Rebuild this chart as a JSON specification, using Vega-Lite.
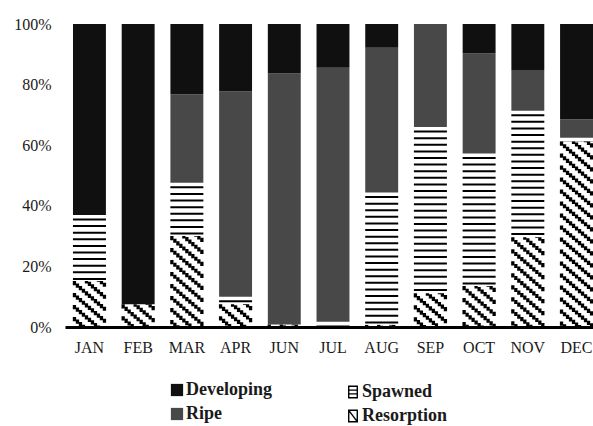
{
  "$schema": "https://vega.github.io/schema/vega-lite/v6.json",
  "autosize": {"type": "none"},
  "padding": {"left": 65, "top": 24, "right": 0, "bottom": 99},
  "width": 528,
  "height": 303,
  "config": {
    "view": {"stroke": null},
    "font": "Liberation Serif",
    "axis": {"grid": false, "ticks": false, "labelFont": "Liberation Serif", "labelFontSize": 16, "labelColor": "#1a1a1a", "title": null},
    "legend": {"labelFont": "Liberation Serif", "labelFontSize": 18, "labelFontWeight": "bold", "labelColor": "#1a1a1a"}
  },
  "data": {
    "values": [
      {"month": "JAN", "cat": "Resorption", "pct": 15.2},
      {"month": "JAN", "cat": "Spawned", "pct": 21.8},
      {"month": "JAN", "cat": "Developing", "pct": 63.0},
      {"month": "FEB", "cat": "Resorption", "pct": 7.5},
      {"month": "FEB", "cat": "Developing", "pct": 92.5},
      {"month": "MAR", "cat": "Resorption", "pct": 30.0},
      {"month": "MAR", "cat": "Spawned", "pct": 17.6},
      {"month": "MAR", "cat": "Ripe", "pct": 29.2},
      {"month": "MAR", "cat": "Developing", "pct": 23.2},
      {"month": "APR", "cat": "Resorption", "pct": 7.5},
      {"month": "APR", "cat": "Spawned", "pct": 2.5},
      {"month": "APR", "cat": "Ripe", "pct": 67.7},
      {"month": "APR", "cat": "Developing", "pct": 22.3},
      {"month": "JUN", "cat": "Resorption", "pct": 0.8},
      {"month": "JUN", "cat": "Ripe", "pct": 82.9},
      {"month": "JUN", "cat": "Developing", "pct": 16.3},
      {"month": "JUL", "cat": "Spawned", "pct": 1.7},
      {"month": "JUL", "cat": "Ripe", "pct": 83.9},
      {"month": "JUL", "cat": "Developing", "pct": 14.4},
      {"month": "AUG", "cat": "Resorption", "pct": 0.7},
      {"month": "AUG", "cat": "Spawned", "pct": 43.7},
      {"month": "AUG", "cat": "Ripe", "pct": 47.8},
      {"month": "AUG", "cat": "Developing", "pct": 7.8},
      {"month": "SEP", "cat": "Resorption", "pct": 11.1},
      {"month": "SEP", "cat": "Spawned", "pct": 54.9},
      {"month": "SEP", "cat": "Ripe", "pct": 34.0},
      {"month": "OCT", "cat": "Resorption", "pct": 13.5},
      {"month": "OCT", "cat": "Spawned", "pct": 43.8},
      {"month": "OCT", "cat": "Ripe", "pct": 33.0},
      {"month": "OCT", "cat": "Developing", "pct": 9.7},
      {"month": "NOV", "cat": "Resorption", "pct": 29.6},
      {"month": "NOV", "cat": "Spawned", "pct": 41.8},
      {"month": "NOV", "cat": "Ripe", "pct": 13.4},
      {"month": "NOV", "cat": "Developing", "pct": 15.2},
      {"month": "DEC", "cat": "Resorption", "pct": 61.2},
      {"month": "DEC", "cat": "Spawned", "pct": 1.3},
      {"month": "DEC", "cat": "Ripe", "pct": 6.1},
      {"month": "DEC", "cat": "Developing", "pct": 31.4}
    ]
  },
  "transform": [
    {"calculate": "indexof(['Resorption','Spawned','Ripe','Developing'], datum.cat)", "as": "k"},
    {"stack": "pct", "groupby": ["month"], "sort": [{"field": "k", "order": "ascending"}], "as": ["y0", "y1"]}
  ],
  "encoding": {
    "x": {
      "field": "month",
      "type": "nominal",
      "scale": {"domain": ["JAN", "FEB", "MAR", "APR", "JUN", "JUL", "AUG", "SEP", "OCT", "NOV", "DEC"], "paddingInner": 0.324, "paddingOuter": 0.082, "align": 1},
      "axis": {"labelAngle": 0, "domainWidth": 3, "domainColor": "#000", "labelPadding": 12}
    },
    "y": {
      "field": "y1",
      "type": "quantitative",
      "scale": {"domain": [0, 100]},
      "axis": {"domain": false, "values": [0, 20, 40, 60, 80, 100], "labelExpr": "datum.value + '%'", "labelPadding": 14}
    },
    "y2": {"field": "y0"}
  },
  "layer": [
    {
      "transform": [{"filter": "datum.cat === 'Developing' || datum.cat === 'Ripe'"}],
      "mark": {"type": "bar"},
      "encoding": {
        "color": {
          "field": "cat",
          "type": "nominal",
          "scale": {"domain": ["Developing", "Ripe"], "range": ["#101010", "#484848"]},
          "legend": {"title": null, "orient": "none", "legendX": 103, "legendY": 357, "symbolType": "square", "symbolSize": 150, "symbolStrokeWidth": 0, "labelOffset": 0, "rowPadding": 6}
        }
      }
    },
    {
      "transform": [{"filter": "datum.cat === 'Spawned'"}],
      "mark": {"type": "rule", "color": "#000", "strokeWidth": 33, "strokeCap": "butt", "strokeDash": [2, 4.6], "strokeDashOffset": 3}
    },
    {"transform": [{"filter": "datum.cat === 'Resorption'"}], "mark": {"type": "rule", "color": "#000", "strokeCap": "butt", "strokeWidth": 3.3, "xOffset": -15, "strokeDash": [4.2, 7.8], "strokeDashOffset": 0}},
    {"transform": [{"filter": "datum.cat === 'Resorption'"}], "mark": {"type": "rule", "color": "#000", "strokeCap": "butt", "strokeWidth": 3.3, "xOffset": -12, "strokeDash": [4.2, 7.8], "strokeDashOffset": 9.43}},
    {"transform": [{"filter": "datum.cat === 'Resorption'"}], "mark": {"type": "rule", "color": "#000", "strokeCap": "butt", "strokeWidth": 3.3, "xOffset": -9, "strokeDash": [4.2, 7.8], "strokeDashOffset": 6.86}},
    {"transform": [{"filter": "datum.cat === 'Resorption'"}], "mark": {"type": "rule", "color": "#000", "strokeCap": "butt", "strokeWidth": 3.3, "xOffset": -6, "strokeDash": [4.2, 7.8], "strokeDashOffset": 4.29}},
    {"transform": [{"filter": "datum.cat === 'Resorption'"}], "mark": {"type": "rule", "color": "#000", "strokeCap": "butt", "strokeWidth": 3.3, "xOffset": -3, "strokeDash": [4.2, 7.8], "strokeDashOffset": 1.71}},
    {"transform": [{"filter": "datum.cat === 'Resorption'"}], "mark": {"type": "rule", "color": "#000", "strokeCap": "butt", "strokeWidth": 3.3, "xOffset": 0, "strokeDash": [4.2, 7.8], "strokeDashOffset": 11.14}},
    {"transform": [{"filter": "datum.cat === 'Resorption'"}], "mark": {"type": "rule", "color": "#000", "strokeCap": "butt", "strokeWidth": 3.3, "xOffset": 3, "strokeDash": [4.2, 7.8], "strokeDashOffset": 8.57}},
    {"transform": [{"filter": "datum.cat === 'Resorption'"}], "mark": {"type": "rule", "color": "#000", "strokeCap": "butt", "strokeWidth": 3.3, "xOffset": 6, "strokeDash": [4.2, 7.8], "strokeDashOffset": 6}},
    {"transform": [{"filter": "datum.cat === 'Resorption'"}], "mark": {"type": "rule", "color": "#000", "strokeCap": "butt", "strokeWidth": 3.3, "xOffset": 9, "strokeDash": [4.2, 7.8], "strokeDashOffset": 3.43}},
    {"transform": [{"filter": "datum.cat === 'Resorption'"}], "mark": {"type": "rule", "color": "#000", "strokeCap": "butt", "strokeWidth": 3.3, "xOffset": 12, "strokeDash": [4.2, 7.8], "strokeDashOffset": 0.86}},
    {"transform": [{"filter": "datum.cat === 'Resorption'"}], "mark": {"type": "rule", "color": "#000", "strokeCap": "butt", "strokeWidth": 3.3, "xOffset": 15, "strokeDash": [4.2, 7.8], "strokeDashOffset": 10.29}},
    {
      "transform": [{"filter": "datum.cat === 'Spawned' || datum.cat === 'Resorption'"}],
      "mark": {"type": "point", "filled": false, "opacity": 0, "color": "#000"},
      "encoding": {
        "y2": null,
        "shape": {
          "field": "cat",
          "type": "nominal",
          "scale": {"domain": ["Spawned", "Resorption"], "range": ["M-0.75,-1H0.75V1H-0.75Z M-0.75,-0.33H0.75 M-0.75,0.33H0.75", "M-0.75,-1H0.75V1H-0.75Z M-0.75,-1L0.75,1"]},
          "legend": {"title": null, "orient": "none", "legendX": 279, "legendY": 359, "symbolSize": 130, "symbolStrokeWidth": 1.4, "symbolStrokeColor": "#000", "symbolFillColor": "#fff", "labelOffset": 0, "rowPadding": 6}
        }
      }
    }
  ]
}
